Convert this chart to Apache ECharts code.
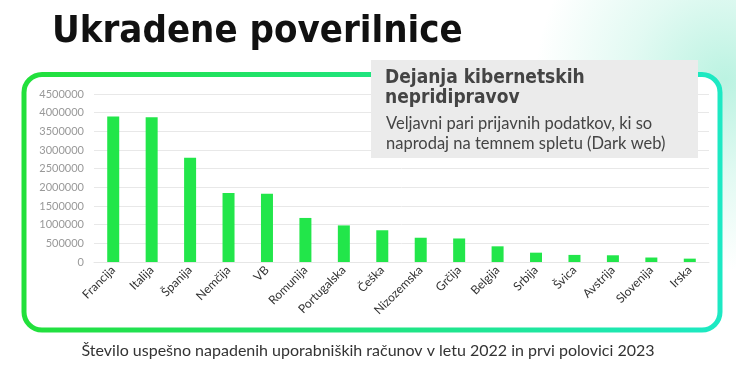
<!DOCTYPE html>
<html><head><meta charset="utf-8">
<script src="https://cdn.jsdelivr.net/npm/echarts@6/dist/echarts.min.js"></script>
<style>html,body{margin:0;padding:0;background:#fff}#c{width:736px;height:379px}</style>
</head><body><div id="c"></div>
<script>
const categories = ['Francija','Italija','Španija','Nemčija','VB','Romunija','Portugalska','Češka','Nizozemska','Grčija','Belgija','Srbija','Švica','Avstrija','Slovenija','Irska'];
const values = [3900000,3880000,2790000,1850000,1830000,1180000,980000,850000,650000,630000,420000,250000,190000,180000,120000,90000];
const yTicks = {min:0, max:4500000, interval:500000};

const chart = echarts.init(document.getElementById('c'), null, {renderer:'canvas'});
chart.setOption({
  animation:false,
  backgroundColor:'#fff',
  title:{text:'Ukradene poverilnice', left:47, top:8,
    textStyle:{fontFamily:'DejaVu Sans Condensed', fontWeight:'bold', fontSize:38, color:'#111'}},
  graphic:[
    {type:'ellipse', z:-10, shape:{cx:725,cy:80,rx:190,ry:240},
     style:{fill:{type:'radial',x:0.5,y:0.5,r:0.5,colorStops:[{offset:0,color:'rgba(60,220,170,0.35)'},{offset:0.5,color:'rgba(60,220,170,0.15)'},{offset:1,color:'rgba(60,220,170,0)'}]}}},
    {type:'rect', z:-5, shape:{x:24,y:74.5,width:696,height:255.5,r:18},
     style:{fill:'#fff', lineWidth:5,
       stroke:{type:'linear',x:0,y:0,x2:1,y2:0,colorStops:[{offset:0,color:'#22e03a'},{offset:1,color:'#1de9c4'}]}}},
    {type:'rect', z:10, shape:{x:371,y:60,width:327,height:98}, style:{fill:'#ebebeb'}},
    {type:'text', z:11, left:385, top:68,
     style:{text:'Dejanja kibernetskih\nnepridipravov', fontFamily:'DejaVu Sans Condensed', fontWeight:'bold', fontSize:19, lineHeight:20, fill:'#444'}},
    {type:'text', z:11, left:386, top:114,
     style:{text:'Veljavni pari prijavnih podatkov, ki so\nnaprodaj na temnem spletu (Dark web)', fontFamily:'Lato', fontSize:16.5, lineHeight:20, fill:'#444'}},
    {type:'text', z:11, left:'center', top:343,
     style:{text:'Število uspešno napadenih uporabniških računov v letu 2022 in prvi polovici 2023', fontFamily:'Lato', fontSize:16, fill:'#333'}}
  ],
  grid:{left:94, right:27, top:94, bottom:117, containLabel:false},
  xAxis:{type:'category', data:categories,
    axisLine:{show:true, lineStyle:{color:'#e6e6e6'}}, axisTick:{show:false},
    axisLabel:{rotate:45, interval:0, fontFamily:'Lato', fontSize:12, color:'#333', margin:6}},
  yAxis:{type:'value', min:yTicks.min, max:yTicks.max, interval:yTicks.interval,
    axisLine:{show:false}, axisTick:{show:false},
    splitLine:{lineStyle:{color:'#e8e8e8'}},
    axisLabel:{fontFamily:'Lato', fontSize:11, color:'#999', margin:10, formatter:v=>String(v)}},
  series:[{type:'bar', data:values, barWidth:12, itemStyle:{color:'#22e64a'}}]
});
</script></body></html>
